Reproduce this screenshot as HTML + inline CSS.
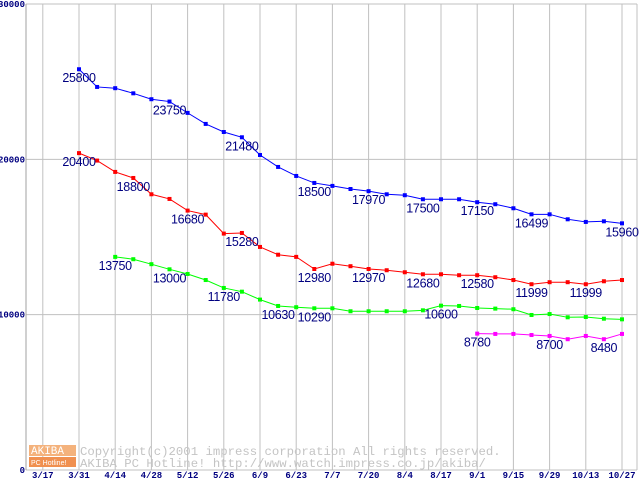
<!DOCTYPE html>
<html><head><meta charset="utf-8"><style>
body{margin:0;background:#fff;}
svg{display:block;}
</style></head><body>
<svg id="chart" width="640" height="480" viewBox="0 0 640 480">
<g id="grid"></g>
<g id="watermark">
  <rect x="29" y="445" width="47" height="11" fill="#f4b27c"/>
  <rect x="29" y="457" width="47" height="10" fill="#f09050"/>
  <text x="31" y="454" font-family="Liberation Mono, monospace" font-size="11" fill="#fff">AKIBA</text>
  <text x="31" y="465" font-family="Liberation Sans, sans-serif" font-size="7" fill="#fff">PC Hotline!</text>
  <text x="80" y="455" font-family="Liberation Mono, monospace" font-size="12.3" fill="#c4c4c4">Copyright(c)2001 impress corporation All rights reserved.</text>
  <text x="80" y="467" font-family="Liberation Mono, monospace" font-size="12.3" fill="#c4c4c4">AKIBA PC Hotline!  http://www.watch.impress.co.jp/akiba/</text>
</g>
<g id="axes"></g>
<g id="series"></g>
</svg>
<script>
const xLabels=["3/17","3/31","4/14","4/28","5/12","5/26","6/9","6/23","7/7","7/20","8/4","8/17","9/1","9/15","9/29","10/13","10/27"];
const yTicks=[0,10000,20000,30000];
const blueVals=[25800,24660,24580,24250,23870,23720,22990,22280,21760,21420,20280,19510,18930,18480,18290,18090,17950,17750,17690,17430,17430,17430,17240,17110,16850,16460,16460,16140,15970,16010,15880];
const redVals=[20400,19920,19190,18800,17750,17450,16700,16440,15220,15260,14360,13860,13720,12940,13280,13120,12940,12860,12730,12600,12600,12540,12540,12410,12230,11960,12090,12090,11960,12150,12230];
const greenVals=[null,null,13720,13570,13250,12920,12620,12230,11720,11480,10970,10560,10480,10410,10410,10220,10220,10220,10220,10280,10580,10560,10430,10390,10350,9980,10040,9830,9850,9740,9700];
const magentaVals=[null,null,null,null,null,null,null,null,null,null,null,null,null,null,null,null,null,null,null,null,null,null,8780,8760,8760,8690,8630,8420,8630,8420,8760];
const blueLabels=[[0,"25800"],[5,"23750"],[9,"21480"],[13,"18500"],[16,"17970"],[19,"17500"],[22,"17150"],[25,"16499"],[30,"15960"]];
const redLabels=[[0,"20400"],[3,"18800"],[6,"16680"],[9,"15280"],[13,"12980"],[16,"12970"],[19,"12680"],[22,"12580"],[25,"11999"],[28,"11999"]];
const greenLabels=[[2,"13750"],[5,"13000"],[8,"11780"],[11,"10630"],[13,"10290"],[20,"10600"]];
const magentaLabels=[[22,"8780"],[26,"8700"],[29,"8480"]];

const NS="http://www.w3.org/2000/svg";
const L=26,R=637,T=4,B=470,X0=79,STEP=18.1;
const yS=v=>B-(v/30000)*(B-T);
const xS=i=>X0+i*STEP;
function mk(tag,attrs,parent){const e=document.createElementNS(NS,tag);for(const k in attrs)e.setAttribute(k,attrs[k]);parent.appendChild(e);return e;}
const grid=document.getElementById('grid'),axes=document.getElementById('axes'),ser=document.getElementById('series');
xLabels.forEach((lab,k)=>{
  const x=xS(2*(k-1));
  const ln=mk('line',{x1:x,x2:x,y1:T,y2:B,stroke:'#c0c0c0','stroke-width':1},grid);
  
  
  const t=mk('text',{x:x,y:478,'text-anchor':'middle','font-family':'Liberation Mono, monospace','font-size':9,'font-weight':'bold',fill:'#000080'},axes);
  t.textContent=lab;
  
  
});
const rl=mk('line',{x1:R,x2:R,y1:T,y2:B,stroke:'#c0c0c0'},grid);


yTicks.forEach(v=>{
  const y=yS(v);
  const ln=mk('line',{x1:L,x2:R,y1:y,y2:y,stroke:'#c0c0c0'},grid);
  
  
  const t=mk('text',{x:L-1,y:y+3,'text-anchor':'end','font-family':'Liberation Mono, monospace','font-size':9,'font-weight':'bold',fill:'#000080'},axes);
  t.textContent=String(v);
  
  
});
const la=mk('line',{x1:L,x2:L,y1:T,y2:B,stroke:'#a0a0a0'},grid);


function draw(vals,labels,color,name){
  const g=mk('g',{},ser);
  
  
  const pts=[];vals.forEach((v,i)=>{if(v!=null)pts.push([xS(i),yS(v)]);});
  const pl=mk('polyline',{points:pts.map(p=>p.join(',')).join(' '),fill:'none',stroke:color,'stroke-width':1},g);
  
  
  pts.forEach(p=>{
    const r=mk('rect',{x:p[0]-2,y:p[1]-2,width:4,height:4,fill:color},g);
    
    
  });
  labels.forEach(([i,txt])=>{
    const t=mk('text',{x:xS(i),y:yS(vals[i])+13,'text-anchor':'middle','font-family':'Liberation Sans, sans-serif','font-size':12.5,'letter-spacing':'-0.3',fill:'#000080'},g);
    t.textContent=txt;
    
    
  });
}
draw(blueVals,blueLabels,'#0000ff','blue');
draw(redVals,redLabels,'#ff0000','red');
draw(greenVals,greenLabels,'#00ff00','green');
draw(magentaVals,magentaLabels,'#ff00ff','magenta');
</script>
</body></html>
